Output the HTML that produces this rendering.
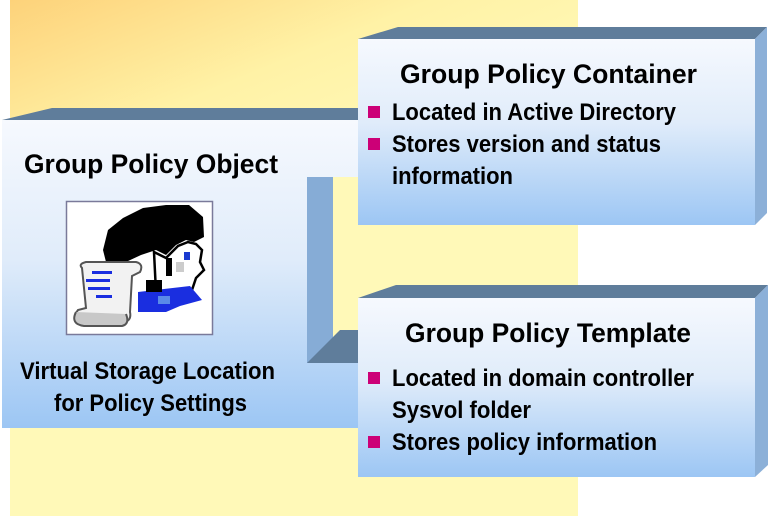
<!DOCTYPE html>
<html><head><meta charset="utf-8"><style>
html,body{margin:0;padding:0;background:#fff;}
svg{display:block;}
text{font-family:"Liberation Sans",Arial,sans-serif;font-weight:bold;fill:#000;}
</style></head><body>
<svg width="768" height="516" viewBox="0 0 768 516" xmlns="http://www.w3.org/2000/svg">
<defs>
<linearGradient id="bg" x1="0" y1="0" x2="1" y2="0.6">
<stop offset="0" stop-color="#fdd27a"/><stop offset="0.55" stop-color="#fff2a6"/><stop offset="1" stop-color="#fff9b8"/>
</linearGradient>
<linearGradient id="face" x1="0" y1="0" x2="0" y2="1">
<stop offset="0" stop-color="#f6f9fe"/><stop offset="0.45" stop-color="#e0ecfa"/><stop offset="1" stop-color="#9cc6f4"/>
</linearGradient>
<linearGradient id="face2" gradientUnits="userSpaceOnUse" x1="0" y1="120" x2="0" y2="428">
<stop offset="0" stop-color="#f6f9fe"/><stop offset="0.45" stop-color="#e0ecfa"/><stop offset="1" stop-color="#9cc6f4"/>
</linearGradient>
</defs>
<rect x="10" y="0" width="568" height="516" fill="#fff9b8"/>
<rect x="10" y="0" width="568" height="140" fill="url(#bg)"/>

<!-- GPO box (notched) -->
<polygon points="2,120 52,108 362,108 358,120" fill="#5f7d9b"/>
<polygon points="2,120 358,120 358,177 307,177 307,363 358,363 358,428 2,428" fill="url(#face2)"/>

<!-- connector -->
<rect x="307" y="177" width="26" height="186" fill="#86acd6"/>
<polygon points="307,363 340,330 362,330 362,363" fill="#5f7d9b"/>

<!-- GPC box -->
<polygon points="358,39 398,27 767,27 755,39" fill="#5f7d9b"/>
<polygon points="755,39 767,27 767,213 755,225" fill="#8cb0d8"/>
<rect x="358" y="39" width="397" height="186" fill="url(#face)"/>

<!-- GPT box -->
<polygon points="358,298 396,285 768,285 755,298" fill="#5f7d9b"/>
<polygon points="755,298 768,285 768,465 755,477" fill="#8cb0d8"/>
<rect x="358" y="298" width="397" height="179" fill="url(#face)"/>

<!-- GPO text -->
<text x="24" y="173" font-size="27" textLength="254" lengthAdjust="spacingAndGlyphs">Group Policy Object</text>
<text x="20" y="379" font-size="24" textLength="255" lengthAdjust="spacingAndGlyphs">Virtual Storage Location</text>
<text x="54" y="411" font-size="24" textLength="193" lengthAdjust="spacingAndGlyphs">for Policy Settings</text>

<!-- icon -->
<rect x="66.5" y="201.5" width="146" height="133" fill="#fff" stroke="#7a7a9a" stroke-width="1.5"/>
<g transform="translate(66,200)">
<polygon points="37,50 42,30 57,18 77,8 100,5 123,5 137,17 138,37 128,42 120,40 110,45 100,55 90,50 75,55 60,62 40,62" fill="#000"/>
<polygon points="88,52 100,58 112,46 122,42 130,44 136,50 134,62 138,70 130,78 126,90 112,92 100,96 90,92" fill="#fff" stroke="#000" stroke-width="2.5"/>
<polygon points="100,58 106,58 106,76 100,76" fill="#000"/>
<polygon points="110,62 118,62 118,72 110,72" fill="#ccc"/>
<polygon points="118,52 124,52 124,60 118,60" fill="#1a3ad0"/>
<polygon points="72,92 124,86 136,100 114,106 100,112 72,112" fill="#1a2ee0"/>
<polygon points="92,96 104,96 104,104 92,104" fill="#5a8ae8"/>
<polygon points="80,80 96,80 96,92 80,92" fill="#000"/>
<path d="M16,68 Q12,64 20,62 L70,62 Q78,64 74,72 L66,76 L64,112 Q66,122 56,122 L14,122 Q6,118 12,110 L20,108 Z" fill="#f2f2f2" stroke="#555" stroke-width="2"/>
<path d="M10,112 Q4,124 18,126 L56,126 Q64,124 60,114" fill="#c8c8c8" stroke="#555" stroke-width="2"/>
<rect x="26" y="71" width="20" height="3" fill="#1a2ee0"/>
<rect x="20" y="79" width="24" height="3" fill="#1a2ee0"/>
<rect x="22" y="87" width="22" height="3" fill="#1a2ee0"/>
<rect x="30" y="95" width="16" height="3" fill="#1a2ee0"/>
</g>

<!-- GPC text -->
<text x="400" y="83" font-size="27" textLength="297" lengthAdjust="spacingAndGlyphs">Group Policy Container</text>
<rect x="368" y="106" width="12" height="12" fill="#cc0077"/>
<text x="392" y="120" font-size="24" textLength="284" lengthAdjust="spacingAndGlyphs">Located in Active Directory</text>
<rect x="368" y="138" width="12" height="12" fill="#cc0077"/>
<text x="392" y="152" font-size="24" textLength="269" lengthAdjust="spacingAndGlyphs">Stores version and status</text>
<text x="392" y="184" font-size="24" textLength="121" lengthAdjust="spacingAndGlyphs">information</text>

<!-- GPT text -->
<text x="405" y="342" font-size="27" textLength="286" lengthAdjust="spacingAndGlyphs">Group Policy Template</text>
<rect x="368" y="372" width="12" height="12" fill="#cc0077"/>
<text x="392" y="386" font-size="24" textLength="302" lengthAdjust="spacingAndGlyphs">Located in domain controller</text>
<text x="392" y="418" font-size="24" textLength="139" lengthAdjust="spacingAndGlyphs">Sysvol folder</text>
<rect x="368" y="436" width="12" height="12" fill="#cc0077"/>
<text x="392" y="450" font-size="24" textLength="265" lengthAdjust="spacingAndGlyphs">Stores policy information</text>
</svg>
</body></html>
